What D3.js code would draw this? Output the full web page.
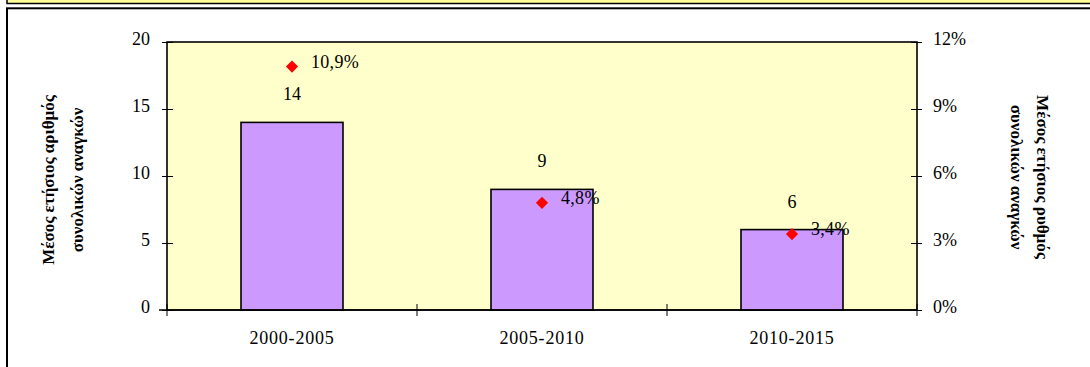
<!DOCTYPE html>
<html><head><meta charset="utf-8">
<script src="https://cdn.jsdelivr.net/npm/d3@7"></script>
<style>
html,body{margin:0;padding:0;background:#fff;overflow:hidden}
svg{display:block}
text{font-family:"Liberation Serif","Times New Roman",serif;fill:#000}
</style></head>
<body>
<svg id="chart" width="1090" height="367"></svg>
<script>
const categories = ["2000-2005", "2005-2010", "2010-2015"];
const needs = [14, 9, 6];
const growthRates = [10.9, 4.8, 3.4];
const leftTicks = [0, 5, 10, 15, 20];
const rightTicks = [0, 3, 6, 9, 12];
const leftTitle = ["Μέσος ετήσιος αριθμός", "συνολικών αναγκών"];
const rightTitle = ["Μέσος ετήσιος ρυθμός", "συνολικών αναγκών"];

const svg = d3.select("#chart");
const P = {l:167, r:917, t:42, b:310};

// top yellow strip and outer frame
svg.append("rect").attr("x",7).attr("y",-10).attr("width",1100).attr("height",13.5)
  .attr("fill","#FFFF99").attr("stroke","#000").attr("stroke-width",1.5);
svg.append("rect").attr("x",7).attr("y",8.3).attr("width",1100).attr("height",400)
  .attr("fill","#fff").attr("stroke","#000").attr("stroke-width",2);

const x = d3.scaleBand().domain(categories).range([P.l, P.r]).paddingInner(0.592).paddingOuter(0.296);
const yL = d3.scaleLinear().domain([0, 20]).range([P.b, P.t]);
const yR = d3.scaleLinear().domain([0, 12]).range([P.b, P.t]);

// plot area
svg.append("rect").attr("x",P.l).attr("y",P.t).attr("width",P.r-P.l).attr("height",P.b-P.t)
  .attr("fill","#FFFFCC").attr("stroke","#000").attr("stroke-width",1.6);

// bars
svg.selectAll("rect.bar").data(categories).join("rect").attr("class","bar")
  .attr("x", d => x(d)).attr("width", x.bandwidth())
  .attr("y", (d,i) => yL(needs[i])).attr("height", (d,i) => yL(0) - yL(needs[i]))
  .attr("fill","#CC99FF").attr("stroke","#000").attr("stroke-width",1.6);

// axes
const ga = svg.append("g").attr("transform",`translate(${P.l},0)`)
  .call(d3.axisLeft(yL).tickValues(leftTicks).tickSize(5).tickPadding(12));
ga.select(".domain").remove();
ga.selectAll(".tick line").attr("x1",6).attr("x2",-5).attr("stroke","#000");
ga.selectAll(".tick text").attr("font-size",18).attr("dy","0.15em")
  .style("font-family",'"Liberation Serif","Times New Roman",serif');

const gr = svg.append("g").attr("transform",`translate(${P.r},0)`)
  .call(d3.axisRight(yR).tickValues(rightTicks).tickFormat(d => d + "%").tickSize(5).tickPadding(11));
gr.select(".domain").remove();
gr.selectAll(".tick line").attr("x1",-6).attr("x2",5).attr("stroke","#000");
gr.selectAll(".tick text").attr("font-size",18).attr("dy","0.15em")
  .style("font-family",'"Liberation Serif","Times New Roman",serif');

// category axis
const gb = svg.append("g").attr("transform",`translate(0,${P.b})`);
gb.append("line").attr("x1",P.l-8).attr("x2",P.r).attr("stroke","#000").attr("stroke-width",1.6);
const step = x.step();
const bounds = [x(categories[0]) + x.bandwidth()/2 - step/2].concat(categories.map(c => x(c) + x.bandwidth()/2 + step/2));
gb.selectAll("line.tk").data(bounds).join("line").attr("class","tk")
  .attr("x1",d=>d).attr("x2",d=>d).attr("y1",-6).attr("y2",6).attr("stroke","#000");
gb.selectAll("text.cat").data(categories).join("text").attr("class","cat")
  .attr("x", d => x(d) + x.bandwidth()/2).attr("y", 34).attr("text-anchor","middle")
  .attr("font-size",18).attr("letter-spacing",0.8).text(d => d);

// bar labels
svg.selectAll("text.bl").data(categories).join("text").attr("class","bl")
  .attr("x", d => x(d) + x.bandwidth()/2).attr("y", (d,i) => yL(needs[i]) - 22)
  .attr("text-anchor","middle").attr("font-size",18).text((d,i) => needs[i]);

// rate markers
const sym = d3.symbol().type(d3.symbolDiamond2).size(95);
svg.selectAll("path.pt").data(categories).join("path").attr("class","pt")
  .attr("d", sym)
  .attr("transform", (d,i) => `translate(${x(d)+x.bandwidth()/2},${yR(growthRates[i])})`)
  .attr("fill","#FF0000");
svg.selectAll("text.pl").data(categories).join("text").attr("class","pl")
  .attr("x", d => x(d) + x.bandwidth()/2 + 19).attr("y", (d,i) => yR(growthRates[i]) + 1)
  .attr("font-size",18).attr("letter-spacing",0.3)
  .text((d,i) => String(growthRates[i]).replace(".", ",") + "%");

// axis titles
const tl = svg.append("text").attr("transform","translate(48,180) rotate(-90)")
  .attr("text-anchor","middle").attr("font-weight","bold").attr("font-size",17);
tl.selectAll("tspan").data(leftTitle).join("tspan").attr("x",0).attr("dy",(d,i)=> i ? 29 : 6).text(d=>d);
const tr = svg.append("text").attr("transform","translate(1043,177) rotate(90)")
  .attr("text-anchor","middle").attr("font-weight","bold").attr("font-size",17);
tr.selectAll("tspan").data(rightTitle).join("tspan").attr("x",0).attr("dy",(d,i)=> i ? 26 : 6).text(d=>d);
</script>
</body></html>
